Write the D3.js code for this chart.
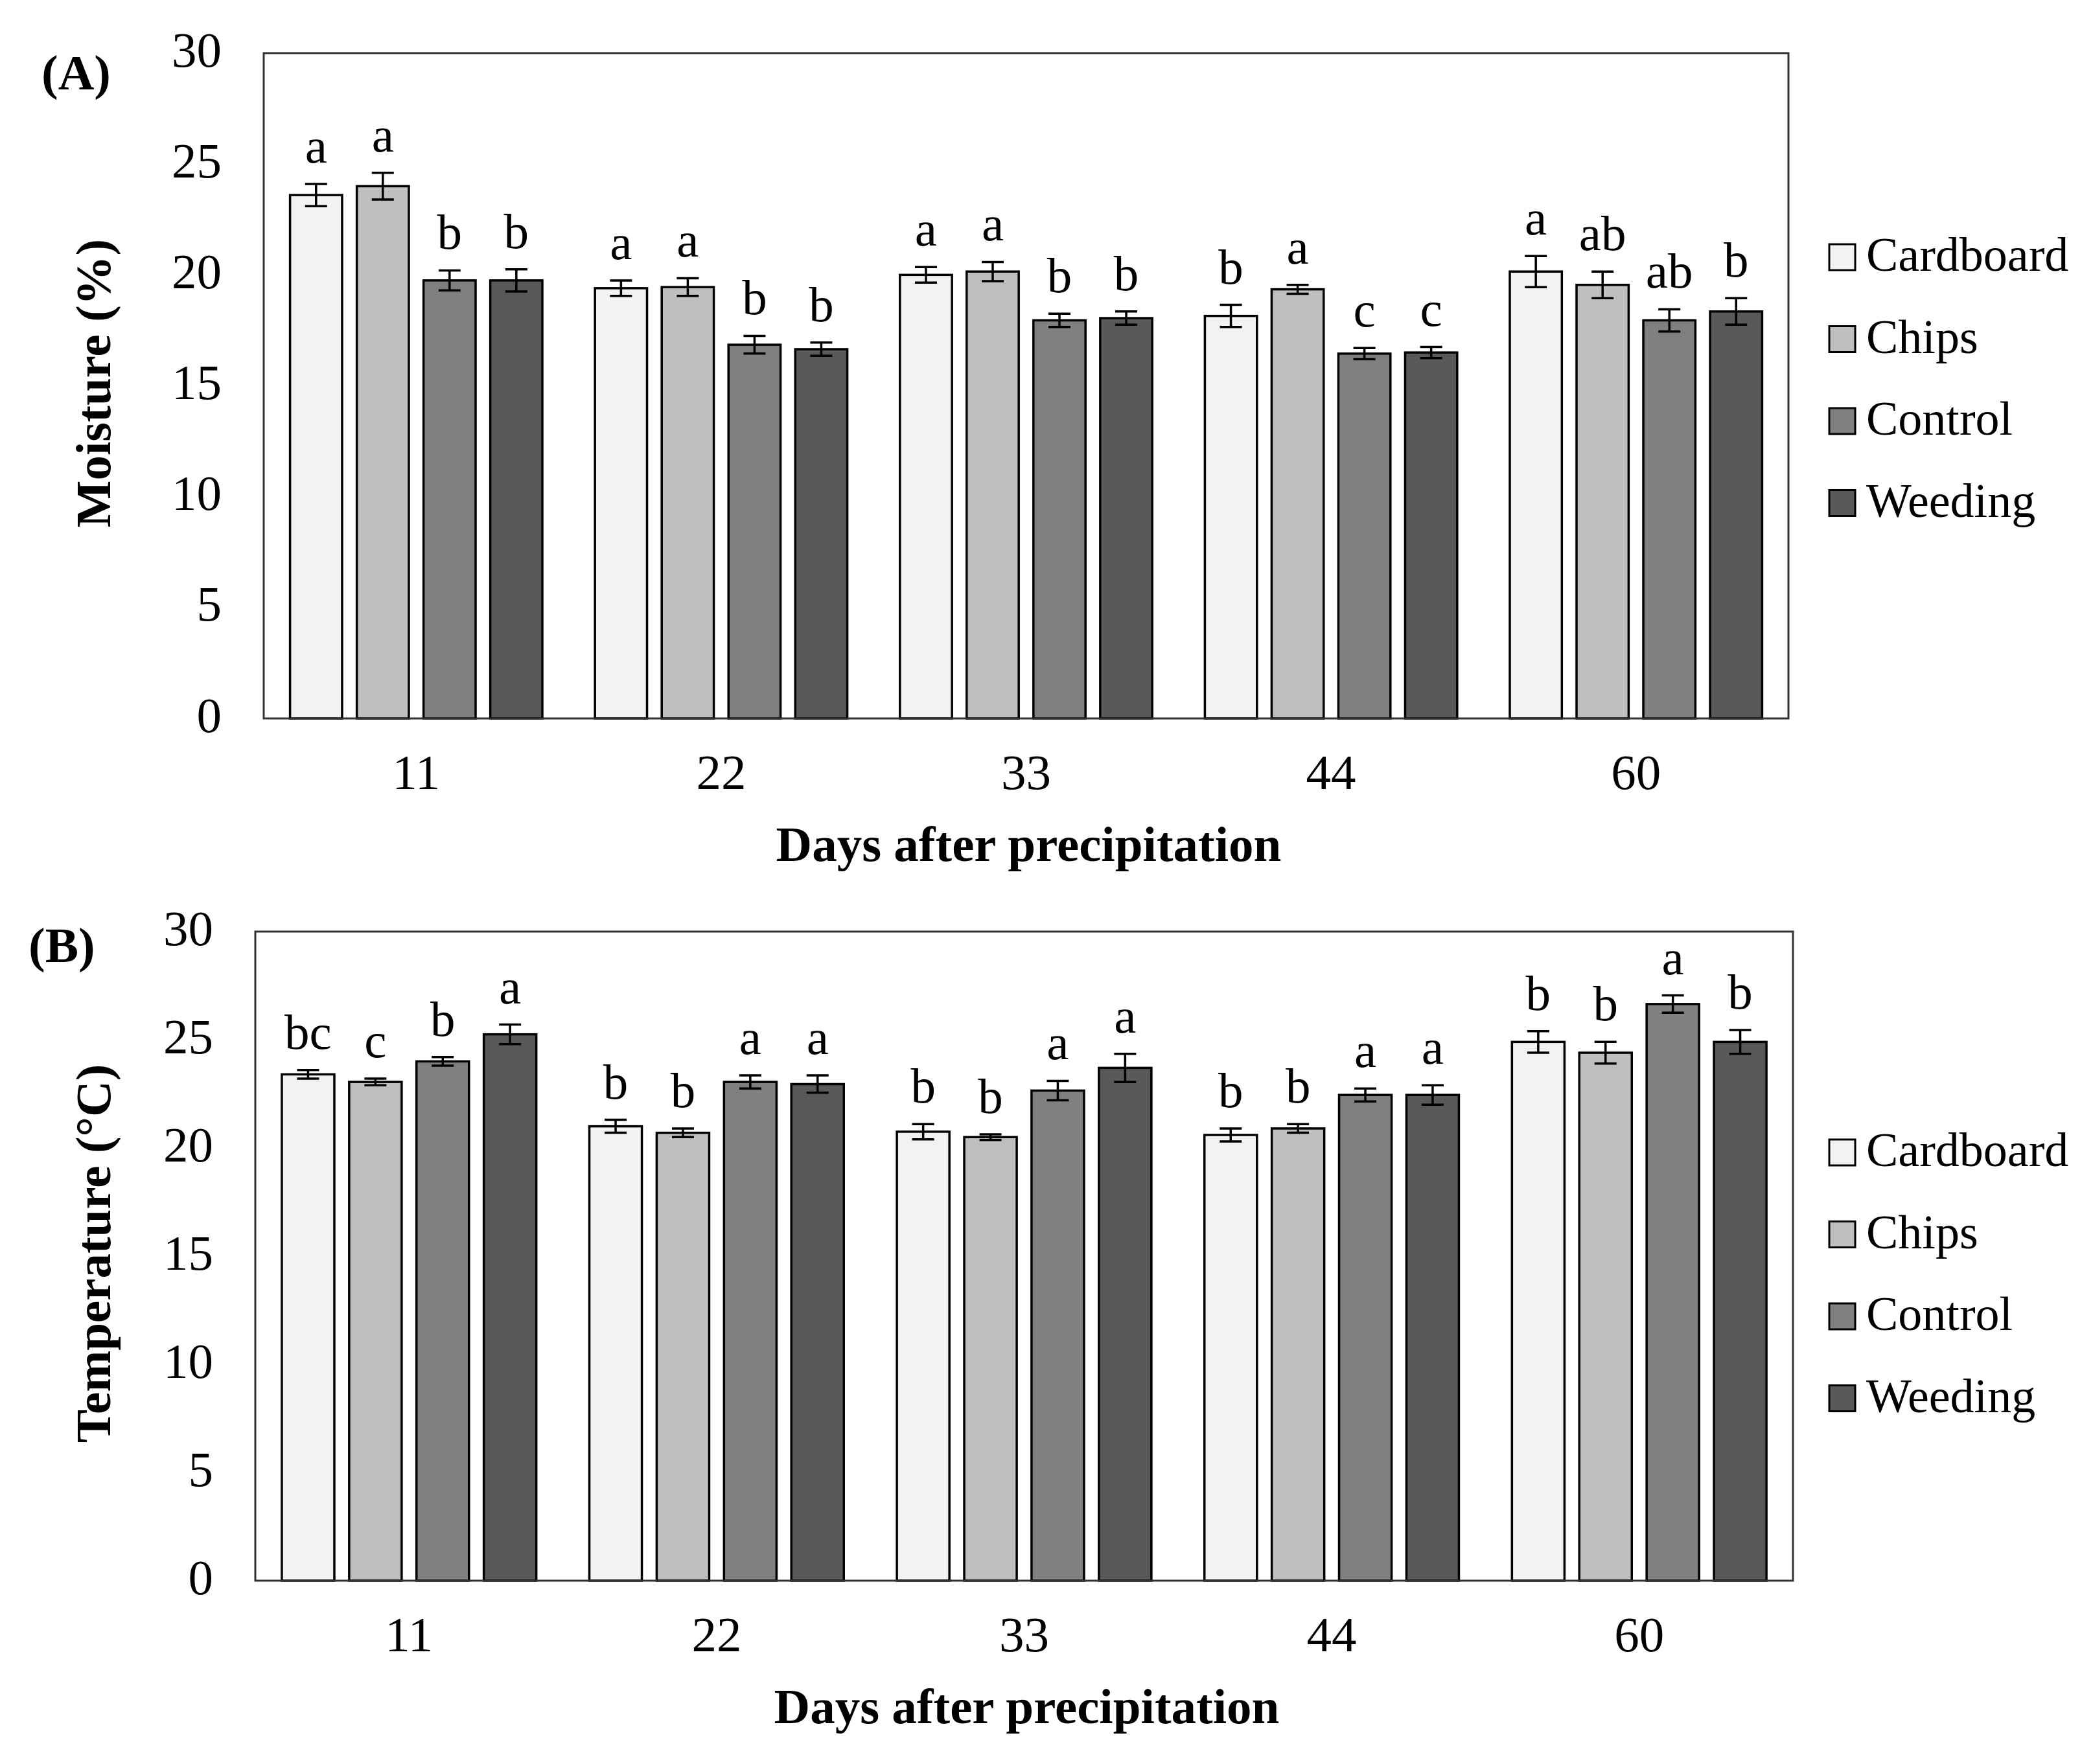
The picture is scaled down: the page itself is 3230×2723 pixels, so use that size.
<!DOCTYPE html>
<html>
<head>
<meta charset="utf-8">
<script src="https://cdn.jsdelivr.net/npm/d3@7"></script>
<style>
  html, body { margin: 0; padding: 0; background: #ffffff; }
  svg { display: block; }
  text { font-family: "Liberation Serif", "Times New Roman", serif; fill: #000; }
</style>
</head>
<body>
<svg id="chart" width="3230" height="2723"></svg>
<script>
// ---------- DATA ----------
const days = ["11", "22", "33", "44", "60"];
const treatments = ["Cardboard", "Chips", "Control", "Weeding"];
const fills = ["#f2f2f2", "#bfbfbf", "#808080", "#595959"];
const yTicks = [0, 5, 10, 15, 20, 25, 30];

// Panel A: Moisture (%)
const moistureCardboard = [23.6, 19.4, 20.0, 18.15, 20.15];
const moistureChips     = [24.0, 19.45, 20.15, 19.35, 19.55];
const moistureControl   = [19.75, 16.85, 17.95, 16.45, 17.95];
const moistureWeeding   = [19.75, 16.65, 18.05, 16.5, 18.35];
const moistureCardboardErr = [0.5, 0.35, 0.35, 0.5, 0.7];
const moistureChipsErr     = [0.6, 0.4, 0.43, 0.2, 0.6];
const moistureControlErr   = [0.45, 0.4, 0.3, 0.25, 0.5];
const moistureWeedingErr   = [0.5, 0.3, 0.3, 0.25, 0.6];
const moistureCardboardLetters = ["a", "a", "a", "b", "a"];
const moistureChipsLetters     = ["a", "a", "a", "a", "ab"];
const moistureControlLetters   = ["b", "b", "b", "c", "ab"];
const moistureWeedingLetters   = ["b", "b", "b", "c", "b"];

// Panel B: Temperature (°C)
const tempCardboard = [23.4, 21.0, 20.75, 20.6, 24.9];
const tempChips     = [23.05, 20.7, 20.5, 20.9, 24.4];
const tempControl   = [24.0, 23.05, 22.65, 22.45, 26.65];
const tempWeeding   = [25.25, 22.95, 23.7, 22.45, 24.9];
const tempCardboardErr = [0.2, 0.3, 0.35, 0.3, 0.5];
const tempChipsErr     = [0.15, 0.2, 0.13, 0.2, 0.5];
const tempControlErr   = [0.2, 0.3, 0.45, 0.3, 0.4];
const tempWeedingErr   = [0.45, 0.4, 0.65, 0.45, 0.55];
const tempCardboardLetters = ["bc", "b", "b", "b", "b"];
const tempChipsLetters     = ["c", "b", "b", "b", "b"];
const tempControlLetters   = ["b", "a", "a", "a", "a"];
const tempWeedingLetters   = ["a", "a", "a", "a", "b"];

// ---------- DRAW ----------
const svg = d3.select("#chart");
const FS = 77;
const LFS = 74;

function drawPanel(opt) {
  const { left, right, top, bottom, means, errs, letters, tag, tagX, tagY, yTitle, legendY } = opt;
  const g = svg.append("g");

  const x0 = d3.scaleBand().domain(days).range([left, right]).paddingInner(0).paddingOuter(0);
  const x1 = d3.scaleBand().domain(treatments).range([0, x0.bandwidth()])
    .paddingInner(0.22).paddingOuter(0.394);
  const y = d3.scaleLinear().domain([0, 30]).range([bottom, top]);

  treatments.forEach((t, ti) => {
    const rows = days.map((d, di) => ({ d, v: means[ti][di], e: errs[ti][di], l: letters[ti][di] }));
    const grp = g.append("g");
    grp.selectAll("rect").data(rows).join("rect")
      .attr("x", r => x0(r.d) + x1(t))
      .attr("y", r => y(r.v))
      .attr("width", x1.bandwidth())
      .attr("height", r => y(0) - y(r.v))
      .attr("fill", fills[ti])
      .attr("stroke", "#000")
      .attr("stroke-width", 3.5);
    const cx = r => x0(r.d) + x1(t) + x1.bandwidth() / 2;
    const cap = 17;
    grp.selectAll("line.v").data(rows).join("line").attr("class", "v")
      .attr("x1", cx).attr("x2", cx)
      .attr("y1", r => y(r.v + r.e)).attr("y2", r => y(r.v - r.e))
      .attr("stroke", "#000").attr("stroke-width", 3.5);
    grp.selectAll("line.t").data(rows).join("line").attr("class", "t")
      .attr("x1", r => cx(r) - cap).attr("x2", r => cx(r) + cap)
      .attr("y1", r => y(r.v + r.e)).attr("y2", r => y(r.v + r.e))
      .attr("stroke", "#000").attr("stroke-width", 3.5);
    grp.selectAll("line.b").data(rows).join("line").attr("class", "b")
      .attr("x1", r => cx(r) - cap).attr("x2", r => cx(r) + cap)
      .attr("y1", r => y(r.v - r.e)).attr("y2", r => y(r.v - r.e))
      .attr("stroke", "#000").attr("stroke-width", 3.5);
    grp.selectAll("text.sig").data(rows).join("text").attr("class", "sig")
      .attr("x", cx)
      .attr("y", r => y(r.v + r.e) - 33)
      .attr("text-anchor", "middle")
      .attr("font-size", FS)
      .text(r => r.l);
  });

  g.append("rect")
    .attr("x", left).attr("y", top)
    .attr("width", right - left).attr("height", bottom - top)
    .attr("fill", "none").attr("stroke", "#333").attr("stroke-width", 3);

  const yAxis = d3.axisLeft(y).tickValues(yTicks).tickSize(0).tickPadding(0).tickFormat(d3.format("d"));
  const ya = g.append("g").attr("transform", `translate(${left - 65},0)`).call(yAxis);
  ya.select(".domain").remove();
  ya.selectAll("text")
    .attr("font-size", FS)
    .attr("font-family", "Liberation Serif, serif")
    .attr("fill", "#000")
    .attr("dy", "0.26em");

  const xAxis = d3.axisBottom(x0).tickSize(0).tickPadding(0);
  const xa = g.append("g").attr("transform", `translate(0,${bottom})`).call(xAxis);
  xa.select(".domain").remove();
  xa.selectAll("text")
    .attr("font-size", FS)
    .attr("font-family", "Liberation Serif, serif")
    .attr("fill", "#000")
    .attr("y", 109).attr("dy", 0);

  g.append("text")
    .attr("x", (left + right) / 2 + 4)
    .attr("y", bottom + 220)
    .attr("text-anchor", "middle")
    .attr("font-size", FS)
    .attr("font-weight", "bold")
    .text("Days after precipitation");

  g.append("text")
    .attr("transform", `translate(170,${(top + bottom) / 2 - 4}) rotate(-90)`)
    .attr("text-anchor", "middle")
    .attr("font-size", FS)
    .attr("font-weight", "bold")
    .text(yTitle);

  g.append("text")
    .attr("x", tagX).attr("y", tagY)
    .attr("font-size", FS)
    .attr("font-weight", "bold")
    .text(tag);

  const lg = g.append("g");
  treatments.forEach((t, i) => {
    const cy = legendY + i * 126.5;
    lg.append("rect")
      .attr("x", 2823).attr("y", cy - 20)
      .attr("width", 40).attr("height", 40)
      .attr("fill", fills[i]).attr("stroke", "#000").attr("stroke-width", 3);
    lg.append("text")
      .attr("x", 2880).attr("y", cy + 21)
      .attr("font-size", LFS)
      .text(t);
  });
}

drawPanel({
  left: 407, right: 2760, top: 82, bottom: 1109,
  means: [moistureCardboard, moistureChips, moistureControl, moistureWeeding],
  errs: [moistureCardboardErr, moistureChipsErr, moistureControlErr, moistureWeedingErr],
  letters: [moistureCardboardLetters, moistureChipsLetters, moistureControlLetters, moistureWeedingLetters],
  tag: "(A)", tagX: 64, tagY: 138,
  yTitle: "Moisture (%)",
  legendY: 397
});

drawPanel({
  left: 394, right: 2767, top: 1438, bottom: 2440,
  means: [tempCardboard, tempChips, tempControl, tempWeeding],
  errs: [tempCardboardErr, tempChipsErr, tempControlErr, tempWeedingErr],
  letters: [tempCardboardLetters, tempChipsLetters, tempControlLetters, tempWeedingLetters],
  tag: "(B)", tagX: 44, tagY: 1485,
  yTitle: "Temperature (°C)",
  legendY: 1779
});
</script>
</body>
</html>
